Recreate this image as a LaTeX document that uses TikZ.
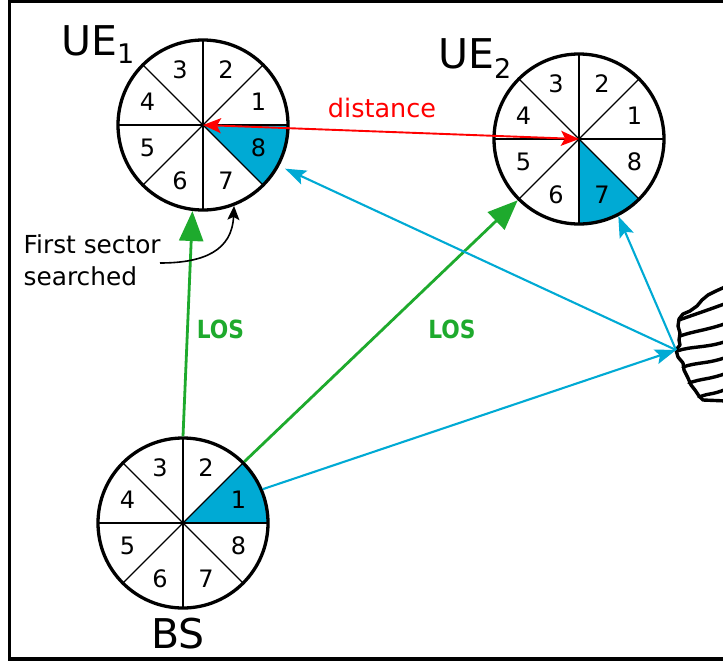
\documentclass[tikz,border=0pt]{standalone}
\usepackage{fontspec}
\setmainfont{DejaVu Sans}
\usetikzlibrary{arrows.meta,calc,backgrounds}

\definecolor{sectorblue}{HTML}{00AAD4}
\definecolor{losgreen}{HTML}{1EAA2D}
\definecolor{distred}{HTML}{FF0000}

\tikzset{
  disk/.style={circle, draw, line width=3.3pt, minimum size=170pt, inner sep=0pt},
  spoke/.style={line width=1.4pt},
  secnum/.style={font=\fontsize{24}{24}\selectfont, inner sep=0pt},
  hot/.style={fill=sectorblue},
  bigname/.style={anchor=base west, inner sep=0pt, font=\fontsize{41}{41}\selectfont},
  note/.style={anchor=base west, inner sep=0pt, font=\fontsize{24.8}{24.8}\selectfont},
  loslabel/.style={inner sep=0pt, text=losgreen, font=\bfseries\fontsize{25}{25}\selectfont},
  los/.style={draw=losgreen, line width=2.8pt, -{Triangle[length=30pt,width=24pt]}},
  ray/.style={draw=sectorblue, line width=2.1pt, -{Stealth[length=21pt,width=15pt,inset=4pt]}},
  gap/.style={draw=distred, line width=1.9pt, {Stealth[length=18pt,width=15pt,inset=4pt]}-{Stealth[length=18pt,width=15pt,inset=4pt]}},
  pointer/.style={line width=1.6pt, -{Stealth[length=14pt,width=12pt,inset=3pt]}},
  rock/.style={line width=3.4pt, line join=round, line cap=round},
}

\begin{document}
\begin{tikzpicture}[x=1pt, y=1pt]
  \useasboundingbox (0,0) rectangle (723,-664);
  \clip (0,0) rectangle (723,-664);

  % outer frame (its right side runs off the page)
  \draw[line width=3.2pt] (9.5,-1.5) rectangle (760,-659);

  % the three sector antennas
  \node[disk] (ue1) at (203,-125) {};
  \node[disk] (ue2) at (579,-139) {};
  \node[disk] (bs)  at (183,-523) {};

  \begin{scope}[on background layer]
    \fill[hot] (ue1.center) -- ++(-45:85pt) arc[start angle=-45, end angle=0, radius=85pt] -- cycle;
    \fill[hot] (ue2.center) -- ++(-90:85pt) arc[start angle=-90, end angle=-45, radius=85pt] -- cycle;
    \fill[hot] (bs.center) -- ++(0:85pt) arc[start angle=0, end angle=45, radius=85pt] -- cycle;
    \foreach \d in {ue1,ue2,bs}
      \foreach \a in {0,45,...,315}
        \draw[spoke] (\d.center) -- ++(\a:85pt);
  \end{scope}

  \foreach \d in {ue1,ue2,bs}
    \foreach \k in {1,...,8}
      \node[secnum] (\d s\k) at ($(\d.center)+({22.5+45*(\k-1)}:60pt)$) {\k};

  % names
  \node[bigname] (ue1lab) at (61,-55) {UE\raisebox{-8pt}{\fontsize{27}{27}\selectfont 1}};
  \node[bigname] (ue2lab) at (438,-68) {UE\raisebox{-10pt}{\fontsize{27}{27}\selectfont 2}};
  \node[bigname] (bslab)  at (151,-648) {BS};

  % reflecting obstacle
  \coordinate (refl) at (676,-350);
  \draw[rock, fill=white] (727,-286) -- (716,-291) -- (708,-295) -- (702,-300) -- (697,-306)
    -- (690,-311) -- (683,-314) -- (679,-319) -- (678,-326) -- (680,-333) -- (679,-340)
    -- (680,-345) -- (676,-350) -- (678,-357) -- (683,-363) -- (684,-370) -- (688,-378)
    -- (691,-385) -- (695,-390) -- (699,-396) -- (703,-400) -- (727,-401);
  \foreach \xl/\yl/\yr in {679/320/303, 680/336/323, 677/351/341, 683/367/357, 689/383/373, 699/397/389}
    \draw[rock] (\xl,-\yl) .. controls ({\xl+14},{-\yl+5}) and (708,{-\yr-7}) .. (727,-\yr);

  % line-of-sight links
  \draw[los] (bs.90) -- (ue1.263);
  \draw[los] (bs.45) -- (ue2.225);
  \node[loslabel] (los1) at (220.5,-329) {\scalebox{0.87}[1]{LOS}};
  \node[loslabel] (los2) at (452,-329) {\scalebox{0.87}[1]{LOS}};

  % reflected path
  \coordinate (ue1hit) at ($(ue1.center)+(-28:93pt)$);
  \draw[ray] (bs.23) -- (refl);
  \draw[ray] (refl) -- (ue1hit);
  \draw[ray] (refl) -- (ue2.-63);

  % distance between the two users
  \draw[gap] (ue1.center) -- (ue2.center);
  \node[anchor=base, inner sep=0pt, text=distred, font=\fontsize{25.5}{25.5}\selectfont] (dist) at (382,-117) {distance};

  % first sector note
  \node[note] (fs1) at (23.5,-253) {First sector};
  \node[note] (fs2) at (23.5,-285) {searched};
  \coordinate (fsfrom) at (160,-263);
  \draw[pointer] (fsfrom) .. controls (205,-263) and (232,-250) .. (ue1.-69);
\end{tikzpicture}
\end{document}
